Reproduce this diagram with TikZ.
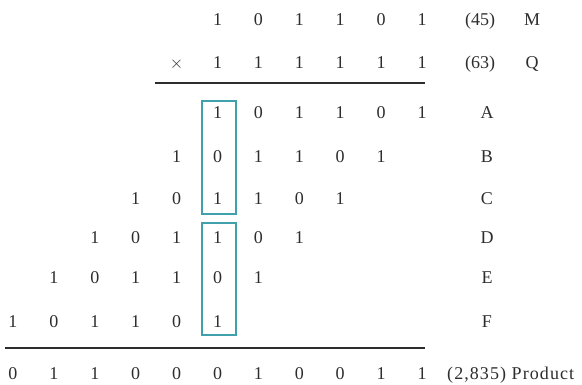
\documentclass[tikz,border=0pt]{standalone}
\usepackage{fontspec}
\setmainfont{Liberation Serif}
\definecolor{boxc}{RGB}{64,160,172}
\definecolor{ink}{RGB}{45,45,45}
\newcommand\bitrow[4]{%
  \foreach \dd [count=\ii from #3] in {#4}{%
    \node[dig] (#1-\ii) at ({13+40.9*\ii},#2) {\dd};}}
\begin{document}
\begin{tikzpicture}[x=1pt,y=-1pt,
  every node/.style={font=\fontsize{18}{20}\selectfont, inner sep=0pt, text=ink},
  dig/.style={anchor=base},
  lbl/.style={anchor=base},
  rulel/.style={line width=1.8pt, draw=ink},
  hbox/.style={draw=boxc, line width=1.3pt}]
\useasboundingbox (0,0) rectangle (582,385);
% operands
\bitrow{M}{26}{5}{1,0,1,1,0,1}
\node[dig] (times) at ({13+40.9*4},69) {$\times$};
\bitrow{Q}{69}{5}{1,1,1,1,1,1}
\node[lbl] (m45) at (480,26) {(45)};
\node[lbl] (mlab) at (532,26) {M};
\node[lbl] (q63) at (480,69) {(63)};
\node[lbl] (qlab) at (532,69) {Q};
\coordinate (r1a) at (155,83);
\coordinate (r1b) at (425,83);
\draw[rulel] (r1a) -- (r1b);
% partial products
\bitrow{A}{119}{5}{1,0,1,1,0,1}
\bitrow{B}{163}{4}{1,0,1,1,0,1}
\bitrow{C}{205}{3}{1,0,1,1,0,1}
\bitrow{D}{244}{2}{1,0,1,1,0,1}
\bitrow{E}{284}{1}{1,0,1,1,0,1}
\bitrow{F}{327}{0}{1,0,1,1,0,1}
\foreach \l/\y in {A/119,B/163,C/205,D/244,E/284,F/327}
  \node[lbl] (lab\l) at (487,\y) {\l};
% highlight boxes
\draw[hbox] (202,101) rectangle (236,214);
\draw[hbox] (202,223) rectangle (236,335);
\coordinate (r2a) at (5,348);
\coordinate (r2b) at (425,348);
\draw[rulel] (r2a) -- (r2b);
% product
\bitrow{P}{380}{0}{0,1,1,0,0,0,1,0,0,1,1}
\node[anchor=base west] (prod) at (447,380) {\addfontfeature{LetterSpace=6}(2,835) Product};
\end{tikzpicture}
\end{document}
